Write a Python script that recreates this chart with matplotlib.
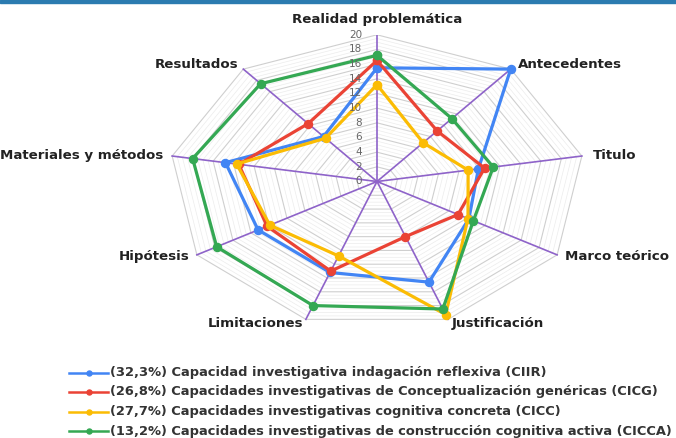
import numpy as np
import matplotlib
matplotlib.use("Agg")
import matplotlib.pyplot as plt
from matplotlib.lines import Line2D
from matplotlib.patches import Rectangle

# Data
categories = ["Realidad problemática", "Antecedentes", "Titulo", "Marco teórico",
              "Justificación", "Limitaciones", "Hipótesis", "Materiales y métodos",
              "Resultados"]
ciir = [15.5, 20.0, 9.9, 10.2, 14.6, 13.2, 13.2, 14.8, 8.0]
cicg = [16.5, 9.0, 10.5, 9.0, 8.0, 13.0, 12.2, 13.5, 10.3]
cicc = [13.2, 6.9, 8.9, 10.1, 19.3, 10.8, 11.9, 13.7, 7.7]
cicca = [17.2, 11.2, 11.35, 10.7, 18.5, 18.0, 17.8, 18.0, 17.4]
series_labels = [
    "(32,3%) Capacidad investigativa indagación reflexiva (CIIR)",
    "(26,8%) Capacidades investigativas de Conceptualización genéricas (CICG)",
    "(27,7%) Capacidades investigativas cognitiva concreta (CICC)",
    "(13,2%) Capacidades investigativas de construcción cognitiva activa (CICCA)",
]
ticks = list(range(0, 21, 2))
rmax = 20

colors = ["#4285F4", "#EA4335", "#FBBC04", "#34A853"]
spoke_color = "#8e63c9"

W, H = 676, 438
fig = plt.figure(figsize=(W / 100, H / 100), dpi=100)

# radar drawn on a plain axes (the reference is stretched horizontally)
cx, cy = 377, 181.5        # centre in pixels from top-left
rx, ry = 208, 146.7        # pixel length of 20 units along x / y
ax = fig.add_axes([(cx - rx) / W, (H - cy - ry) / H, 2 * rx / W, 2 * ry / H])
ax.set_xlim(-rmax, rmax)
ax.set_ylim(-rmax, rmax)
ax.axis("off")

n = len(categories)
theta = np.arange(n) * 2 * np.pi / n
sx, sy = np.sin(theta), np.cos(theta)
sx_c, sy_c = np.append(sx, sx[0]), np.append(sy, sy[0])

# grid rings
for r in np.arange(0.5, rmax + 0.01, 0.5):
    major = abs(r % 2) < 1e-9
    ax.plot(r * sx_c, r * sy_c, color="#cfcfcf" if major else "#ececec",
            lw=0.8 if major else 0.5, zorder=1)

# spokes
for i in range(n):
    ax.plot([0, rmax * sx[i]], [0, rmax * sy[i]], color=spoke_color, lw=1.2, zorder=2)

# series
for vals, c in zip([ciir, cicg, cicc, cicca], colors):
    v = np.append(vals, vals[0])
    ax.plot(v * sx_c, v * sy_c, color=c, lw=2.3, marker="o", ms=5.8,
            markeredgecolor=c, zorder=3, clip_on=False)

# tick labels along the top spoke
for t in ticks:
    ax.annotate(str(t), (0, t), xytext=(-15, 0), textcoords="offset pixels",
                ha="right", va="center", fontsize=7.5, color="#666666", zorder=4)

# category labels
offsets = [(0, 15), (7, 5), (11, 1), (8, -2), (4, -4), (-3, -4), (-7, -2), (-9, 1), (-5, 5)]
aligns = ["center", "left", "left", "left", "left", "right", "right", "right", "right"]
for i, lab in enumerate(categories):
    ax.annotate(lab, (rmax * sx[i], rmax * sy[i]), xytext=offsets[i],
                textcoords="offset pixels", ha=aligns[i], va="center",
                fontsize=9.6, fontweight="bold", color="#222222",
                annotation_clip=False)

# legend, drawn by hand
for k, (lab, c) in enumerate(zip(series_labels, colors)):
    y = 1 - (372.5 + 19.5 * k) / H
    fig.add_artist(Line2D([69 / W, 108 / W], [y, y], color=c, lw=1.8,
                          transform=fig.transFigure))
    fig.add_artist(Line2D([88.5 / W], [y], color=c, marker="o", ms=3.6,
                          transform=fig.transFigure))
    fig.text(110 / W, y, lab, ha="left", va="center", fontsize=9.4,
             fontweight="bold", color="#333333")

# thin header bar at the top
fig.add_artist(Rectangle((0, 1 - 3 / H), 1, 3 / H, color="#2b7bb0",
                         transform=fig.transFigure, zorder=10))

fig.savefig("out.png", dpi=100)
